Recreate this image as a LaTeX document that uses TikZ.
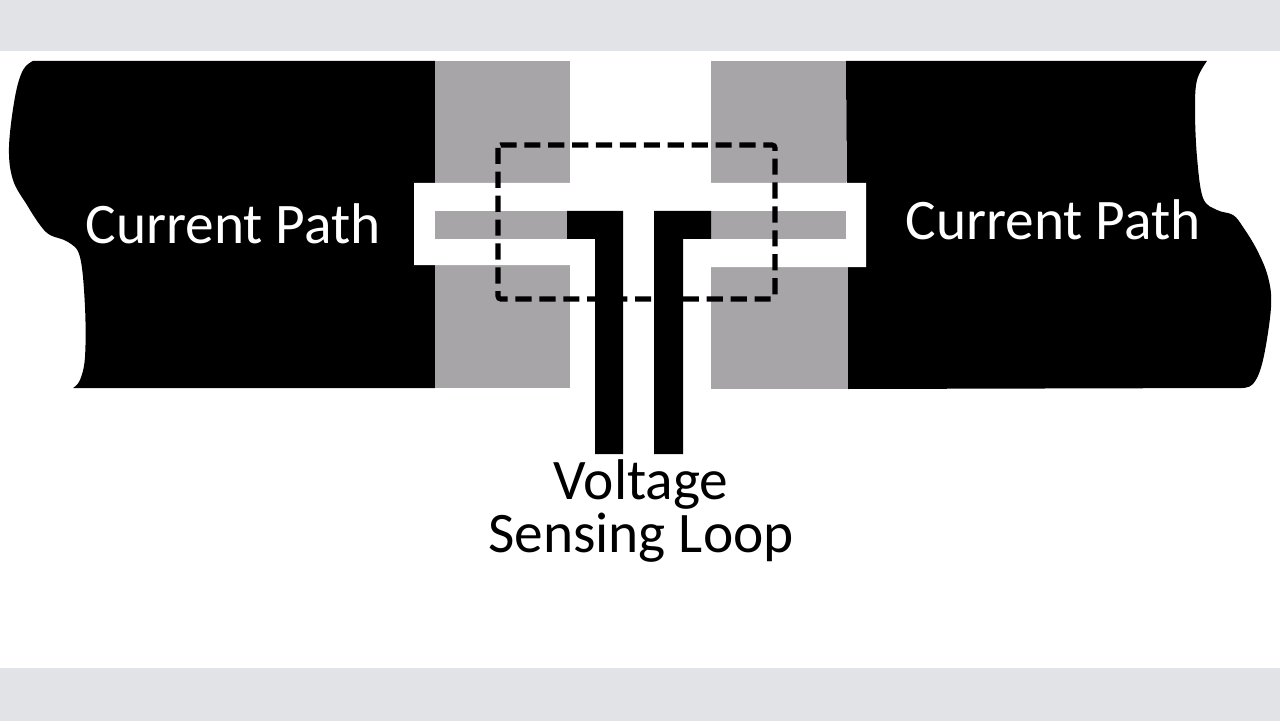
\documentclass[tikz,border=0pt]{standalone}
\usepackage{fontspec}
\setmainfont{Carlito}
\definecolor{bandgrey}{HTML}{E1E3E7}
\definecolor{padgrey}{HTML}{A7A5A8}

\begin{document}
\begin{tikzpicture}[x=0.025cm, y=-0.025cm,
  pad/.style={fill=padgrey},
  lead/.style={fill=black},
  label/.style={anchor=base, inner sep=0pt, font=\fontsize{40.8}{40.8}\selectfont},
  window/.style={draw=black, line width=3.6pt, dash pattern=on 11.5pt off 5.5pt, rounded corners=2pt}]
  \useasboundingbox (0,0) rectangle (1280,721);
  % top and bottom bands
  \fill[bandgrey] (0,0) rectangle (1280,51);
  \fill[bandgrey] (0,668) rectangle (1280,721);

  % black current path, torn ends
  \fill[black] (435,61) -- (33,61)
    -- plot[smooth, tension=0.6] coordinates {(33,61) (23,70) (15,97) (9,147) (13,180) (27,205) (40,225) (50,235) (68,242) (80,257) (85,307) (85,357) (80,380) (73,388)}
    -- (435,388) -- cycle;
  \fill[black] (846,61) -- (1207,61)
    -- plot[smooth, tension=0.6] coordinates {(1207,61) (1197,80) (1195,110) (1197,157) (1203,198) (1217,210) (1233,215) (1243,227) (1257,250) (1268,277) (1271,307) (1263,360) (1253,384) (1240,388)}
    -- (848,389) -- cycle;

  % grey pads
  \fill[pad] (435,61) rectangle (570,183);
  \fill[pad] (711,61) rectangle (846,183);
  \fill[pad] (435,265) rectangle (570,388);
  \fill[pad] (711,267) rectangle (848,389);

  % white slot
  \fill[white] (414,183) -- (866,183) -- (866,267) -- (711,267) -- (711,265) -- (414,265) -- cycle;
  \fill[pad] (435,211) rectangle (567,239);
  \fill[pad] (711,211) rectangle (846,239);

  % sensing loop
  \fill[lead] (567,211) -- (623,211) -- (623,454) -- (595,454) -- (595,239) -- (567,239) -- cycle;
  \fill[lead] (711,211) -- (654,211) -- (654,454) -- (683,454) -- (683,239) -- (711,239) -- cycle;

  % dashed window
  \draw[window] (498,145) rectangle (775,299);

  \node[label, text=white] (pathL) at (233,243) {Current Path};
  \node[label, text=white] (pathR) at (1053,240) {Current Path};
  \node[label, text=black] (loopA) at (641,499.5) {Voltage};
  \node[label, text=black] (loopB) at (641,552.5) {Sensing Loop};
\end{tikzpicture}
\end{document}
